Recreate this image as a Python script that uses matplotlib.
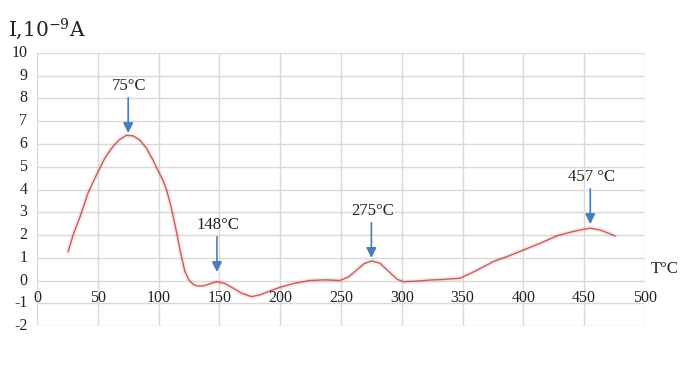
import matplotlib
matplotlib.use("Agg")
import matplotlib.pyplot as plt

plt.rcParams["mathtext.fontset"] = "dejavuserif"

# Data
temps = [25.6, 30, 35.4, 42, 50.2, 56, 62.6, 68, 73.5, 79, 84.4, 90, 95.3, 100, 103.5, 106.6, 110,
         114.8, 118, 121.6, 125, 128.5, 132, 136.8, 142, 147.7, 154, 161.4, 168, 176.5, 184,
         192, 199.8, 212, 224.5, 237, 249, 256, 262.9, 269, 275.2, 282, 290.3, 296, 301.2,
         312, 323, 335, 347.9, 360, 375.2, 388, 400, 414, 427.4, 437, 446.5, 454.8, 463, 469, 475.3]
current = [1.27, 2.05, 2.8, 3.85, 4.79, 5.4, 5.9, 6.2, 6.38, 6.36, 6.18, 5.82, 5.3, 4.78, 4.42, 3.98, 3.3,
           2.12, 1.25, 0.4, 0.02, -0.17, -0.24, -0.24, -0.15, -0.05, -0.12, -0.34, -0.55, -0.71, -0.62,
           -0.45, -0.3, -0.12, 0.0, 0.03, 0.0, 0.15, 0.46, 0.74, 0.86, 0.76, 0.35, 0.06, -0.05,
           -0.03, 0.02, 0.05, 0.1, 0.4, 0.83, 1.08, 1.34, 1.64, 1.96, 2.1, 2.22, 2.3, 2.22, 2.1, 1.96]

x_ticks = [0, 50, 100, 150, 200, 250, 300, 350, 400, 450, 500]
y_ticks = [-2, -1, 0, 1, 2, 3, 4, 5, 6, 7, 8, 9, 10]

peak_x = [75, 148, 275, 455]
peak_labels = ["75°C", "148°C", "275°C", "457 °C"]
arrow_tip_y = [6.48, 0.37, 0.99, 2.48]
arrow_len = 1.55

serif = ["Liberation Serif", "DejaVu Serif"]
line_color = "#C0504D"
arrow_color = "#4A7EBB"

fig = plt.figure(figsize=(6.8, 3.67), dpi=100)
ax = fig.add_axes([0.0544, 0.1117, 0.8941, 0.7439])
ax.set_xlim(0, 500)
ax.set_ylim(-2, 10)

for s in ax.spines.values():
    s.set_visible(False)
ax.set_xticks(x_ticks)
ax.set_yticks(y_ticks)
ax.grid(True, color="#D9D9D9", linewidth=1.0)
ax.set_axisbelow(True)
ax.tick_params(length=0, labelbottom=False, labelleft=False)

# y tick labels
for v in y_ticks:
    ax.text(-8, v, str(v), ha="right", va="center", fontsize=11.5,
            family=serif, color="#222222")
# x tick labels placed below the zero line (Excel style)
for v in x_ticks:
    ax.text(v, -0.78, str(v), ha="center", va="center", fontsize=11.5,
            family=serif, color="#222222")

# glow + line
ax.plot(temps, current, color=line_color, alpha=0.12, linewidth=3.5, solid_capstyle="round")
ax.plot(temps, current, color=line_color, alpha=0.9, linewidth=1.0)

# arrows and labels
for px, lab, ty in zip(peak_x, peak_labels, arrow_tip_y):
    ax.annotate("", xy=(px, ty), xytext=(px, ty + arrow_len),
                arrowprops=dict(arrowstyle="-|>,head_length=0.6,head_width=0.3",
                                color=arrow_color, lw=1.2, shrinkA=0, shrinkB=0))
    ax.text(px + 1, ty + arrow_len + 0.5, lab, ha="center", va="center",
            fontsize=12, family=serif, color="#222222")

fig.text(8 / 680, 1 - 29 / 367, "I,10$^{-9}$A", ha="left", va="center",
         fontsize=14.5, family=["DejaVu Serif"], color="#222222")
ax.text(516, 0.5, "T°C", ha="center", va="center", fontsize=12,
        family=serif, color="#222222", clip_on=False)

fig.savefig("out.png", dpi=100, facecolor="white")
